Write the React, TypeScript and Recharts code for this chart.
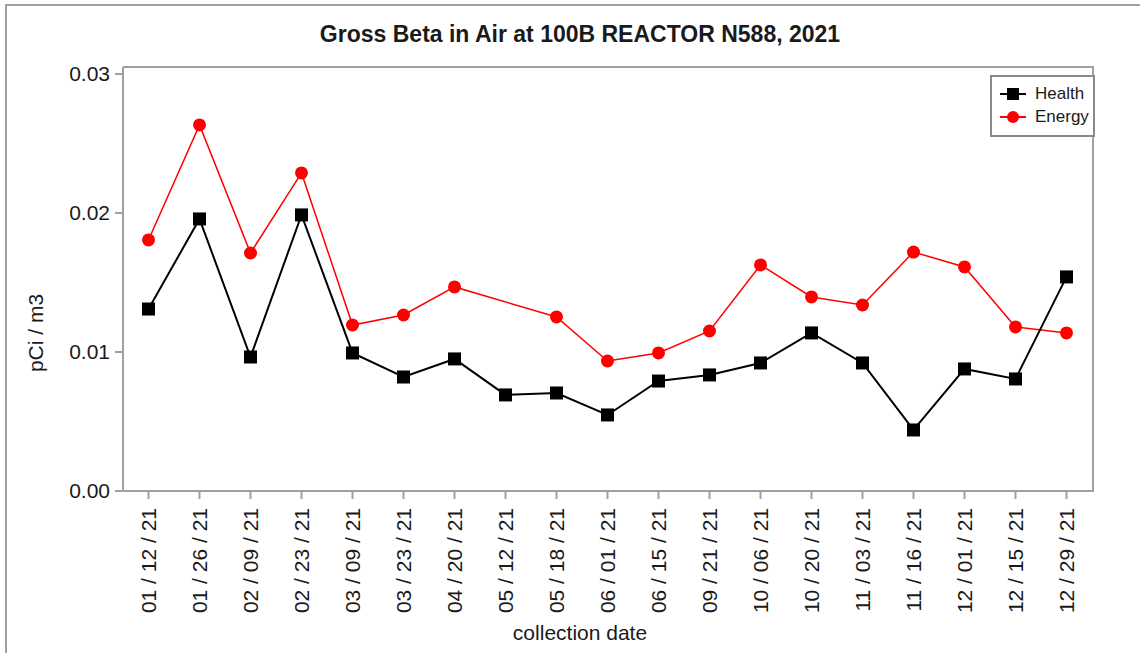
import React from "react";
import { LineChart, Line, XAxis, YAxis, Legend } from "recharts";

const dates = [
  "01 / 12 / 21", "01 / 26 / 21", "02 / 09 / 21", "02 / 23 / 21", "03 / 09 / 21",
  "03 / 23 / 21", "04 / 20 / 21", "05 / 12 / 21", "05 / 18 / 21", "06 / 01 / 21",
  "06 / 15 / 21", "09 / 21 / 21", "10 / 06 / 21", "10 / 20 / 21", "11 / 03 / 21",
  "11 / 16 / 21", "12 / 01 / 21", "12 / 15 / 21", "12 / 29 / 21",
];

const health = [
  0.01309, 0.01957, 0.00964, 0.01986, 0.00993, 0.0082, 0.0095, 0.00691, 0.00705, 0.00547,
  0.00791, 0.00835, 0.00921, 0.01137, 0.00921, 0.00439, 0.00878, 0.00806, 0.0154,
];

const energy: (number | null)[] = [
  0.01806, 0.02633, 0.01712, 0.02288, 0.01194, 0.01266, 0.01468, null, 0.01252, 0.00935,
  0.00993, 0.01151, 0.01626, 0.01396, 0.01338, 0.01719, 0.01612, 0.0118, 0.01137,
];

const yTicks = [0, 0.01, 0.02, 0.03];
const Y_MAX = 0.0305;

const data = dates.map((date, i) => ({ date, health: health[i], energy: energy[i] }));

const FONT = '"Liberation Sans", Arial, sans-serif';
const FRAME = "#a0a0a0";
const TEXT = "#1a1a1a";

// plot box
const PLOT = { left: 123, top: 67, right: 1092, bottom: 491 };

const SquareDot = (props: any) => {
  const { cx, cy } = props;
  if (cx == null || cy == null) return null;
  return <rect x={cx - 6.5} y={cy - 6.5} width={13} height={13} fill="#000" />;
};

const RoundDot = (props: any) => {
  const { cx, cy } = props;
  if (cx == null || cy == null) return null;
  return <circle cx={cx} cy={cy} r={6.5} fill="#ff0000" />;
};

const DateTick = (props: any) => {
  const { x, y, payload } = props;
  return (
    <text
      x={x}
      y={y}
      transform={`rotate(-90, ${x}, ${y})`}
      textAnchor="end"
      dy="0.35em"
      fontSize={21}
      fontFamily={FONT}
      fill={TEXT}
    >
      {payload.value}
    </text>
  );
};

const LegendBox = () => (
  <div
    style={{
      boxSizing: "border-box",
      width: 105,
      height: 62,
      border: "2px solid #8a8a8a",
      background: "#fff",
      paddingTop: 5,
      paddingLeft: 8,
      overflow: "hidden",
      fontFamily: FONT,
      fontSize: 17,
      color: TEXT,
    }}
  >
    <div style={{ display: "flex", alignItems: "center", height: 23 }}>
      <svg width={26} height={14} style={{ marginRight: 9 }}>
        <line x1={0} y1={7} x2={26} y2={7} stroke="#000" strokeWidth={2} />
        <rect x={7} y={1} width={12} height={12} fill="#000" />
      </svg>
      <span>Health</span>
    </div>
    <div style={{ display: "flex", alignItems: "center", height: 23 }}>
      <svg width={26} height={14} style={{ marginRight: 9 }}>
        <line x1={0} y1={7} x2={26} y2={7} stroke="#ff0000" strokeWidth={2} />
        <circle cx={13} cy={7} r={6} fill="#ff0000" />
      </svg>
      <span>Energy</span>
    </div>
  </div>
);

export default function App() {
  return (
    <div
      style={{
        position: "absolute",
        left: 0,
        top: 0,
        width: 1140,
        height: 653,
        background: "#fff",
        fontFamily: FONT,
        overflow: "hidden",
      }}
    >
      <div
        style={{
          position: "absolute",
          left: 5,
          top: 4,
          width: 1140,
          height: 653,
          borderTop: `2px solid ${FRAME}`,
          borderLeft: `2px solid ${FRAME}`,
        }}
      />
      {/* plot frame (top/right sides; axes draw left/bottom) */}
      <div
        style={{
          position: "absolute",
          left: PLOT.left,
          top: PLOT.top - 1,
          width: PLOT.right - PLOT.left,
          height: PLOT.bottom - PLOT.top,
          borderTop: `2px solid ${FRAME}`,
          borderRight: `2px solid ${FRAME}`,
        }}
      />
      <div
        style={{
          position: "absolute",
          left: 580,
          top: 34,
          transform: "translate(-50%, -50%)",
          fontSize: 23,
          fontWeight: "bold",
          color: TEXT,
          whiteSpace: "nowrap",
        }}
      >
        Gross Beta in Air at 100B REACTOR N588, 2021
      </div>
      <div
        style={{
          position: "absolute",
          left: 36,
          top: 333,
          transform: "translate(-50%, -50%) rotate(-90deg)",
          fontSize: 21,
          color: TEXT,
          whiteSpace: "nowrap",
        }}
      >
        pCi / m3
      </div>
      <div
        style={{
          position: "absolute",
          left: 580,
          top: 633,
          transform: "translate(-50%, -50%)",
          fontSize: 21,
          color: TEXT,
          whiteSpace: "nowrap",
        }}
      >
        collection date
      </div>
      <div style={{ position: "absolute", left: 0, top: 0 }}>
        <LineChart
          width={1140}
          height={653}
          data={data}
          margin={{ top: PLOT.top, right: 1140 - PLOT.right, left: 0, bottom: 0 }}
        >
          <XAxis
            dataKey="date"
            height={653 - PLOT.bottom}
            interval={0}
            padding={{ left: 25.5, right: 25.5 }}
            tick={<DateTick />}
            tickSize={8}
            tickMargin={9}
            axisLine={{ stroke: FRAME, strokeWidth: 2 }}
            tickLine={{ stroke: FRAME, strokeWidth: 2 }}
          />
          <YAxis
            width={PLOT.left}
            domain={[0, Y_MAX]}
            ticks={yTicks}
            interval={0}
            tickFormatter={(v: number) => v.toFixed(2)}
            tick={{ fontSize: 21, fill: TEXT, fontFamily: FONT }}
            tickSize={8}
            tickMargin={5}
            axisLine={{ stroke: FRAME, strokeWidth: 2 }}
            tickLine={{ stroke: FRAME, strokeWidth: 2 }}
          />
          <Legend
            layout="horizontal"
            verticalAlign="middle"
            align="center"
            content={() => <LegendBox />}
            wrapperStyle={{ left: 990, top: 75, width: 105, height: 62 }}
          />
          <Line
            dataKey="energy"
            name="Energy"
            stroke="#ff0000"
            strokeWidth={1.5}
            dot={<RoundDot />}
            activeDot={false}
            connectNulls
            isAnimationActive={false}
          />
          <Line
            dataKey="health"
            name="Health"
            stroke="#000"
            strokeWidth={2}
            dot={<SquareDot />}
            activeDot={false}
            isAnimationActive={false}
          />
        </LineChart>
      </div>
    </div>
  );
}
